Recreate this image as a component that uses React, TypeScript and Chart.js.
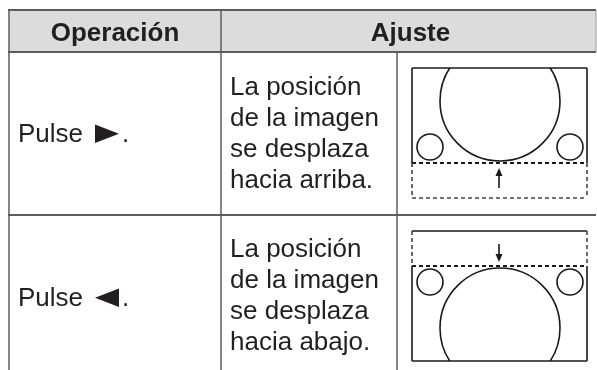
import React, { useEffect, useRef } from "react";
import { Chart, registerables } from "chart.js";

Chart.register(...registerables);

const HEADERS = ["Operación", "Ajuste"];
const OPERATIONS = ["Pulse ►.", "Pulse ◄."];
const DESCRIPTIONS = [
  ["La posición", "de la imagen", "se desplaza", "hacia arriba."],
  ["La posición", "de la imagen", "se desplaza", "hacia abajo."],
];
const SHIFTS = ["up", "down"];

const FONT = "'Liberation Sans', Arial, Helvetica, sans-serif";

const tablePlugin = {
  id: "tablePlugin",
  afterDraw(chart: any) {
    const ctx = chart.ctx as CanvasRenderingContext2D;
    const sx = chart.scales.x;
    const sy = chart.scales.y;
    const X = (v: number) => sx.getPixelForValue(v);
    const Y = (v: number) => sy.getPixelForValue(v);

    const left = 9, right = 596, top = 10, headBottom = 52, rowDiv = 215, bottom = 372;
    const col1 = 221, col2 = 397;

    ctx.save();
    // header background
    ctx.fillStyle = "#dcdcdc";
    ctx.fillRect(X(left), Y(top), X(right) - X(left), Y(headBottom) - Y(top));

    // table lines
    ctx.strokeStyle = "#5c5c5c";
    const line = (x1: number, y1: number, x2: number, y2: number, w: number) => {
      ctx.lineWidth = w;
      ctx.beginPath();
      ctx.moveTo(X(x1), Y(y1));
      ctx.lineTo(X(x2), Y(y2));
      ctx.stroke();
    };
    line(left - 1, top, right, top, 2);
    line(left - 1, headBottom, right, headBottom, 2);
    line(left - 1, rowDiv, right, rowDiv, 2);
    line(left, top, left, bottom, 1.5);
    line(col1, top, col1, bottom, 1.5);
    line(col2, headBottom, col2, bottom, 1.5);
    ctx.strokeStyle = "#9a9a9a";
    line(right, top, right, headBottom, 1);

    // header text
    ctx.fillStyle = "#231f20";
    ctx.font = `bold 26px ${FONT}`;
    ctx.textAlign = "center";
    ctx.textBaseline = "alphabetic";
    ctx.fillText(HEADERS[0], X((left + col1) / 2), Y(41));
    ctx.fillText(HEADERS[1], X((col1 + right) / 2 + 2), Y(41));

    // row text
    ctx.font = `26px ${FONT}`;
    ctx.textAlign = "left";
    const opBase = [142, 306];
    const descBase = [95, 257];
    OPERATIONS.forEach((op, i) => {
      const m = op.match(/^(.*?)\s*([►◄])(.*)$/);
      const word = m ? m[1] : op;
      const sym = m ? m[2] : "";
      const rest = m ? m[3] : "";
      ctx.fillStyle = "#231f20";
      ctx.fillText(word, X(18), Y(opBase[i]));
      if (sym) {
        const tx1 = 95, tx2 = 119;
        const ty1 = opBase[i] - 17.5, ty2 = opBase[i] + 1;
        const mid = (ty1 + ty2) / 2;
        ctx.beginPath();
        if (sym === "►") {
          ctx.moveTo(X(tx1), Y(ty1));
          ctx.lineTo(X(tx2), Y(mid));
          ctx.lineTo(X(tx1), Y(ty2));
        } else {
          ctx.moveTo(X(tx2), Y(ty1));
          ctx.lineTo(X(tx1), Y(mid));
          ctx.lineTo(X(tx2), Y(ty2));
        }
        ctx.closePath();
        ctx.fill();
        ctx.fillText(rest, X(122), Y(opBase[i]));
      }
      DESCRIPTIONS[i].forEach((t, j) => {
        ctx.fillText(t, X(230), Y(descBase[i] + j * 31));
      });
    });

    // pictures
    const bx1 = 412, bx2 = 587;
    const drawArrow = (x: number, yFrom: number, yTo: number) => {
      ctx.strokeStyle = "#1a1a1a";
      ctx.fillStyle = "#1a1a1a";
      ctx.lineWidth = 1.6;
      const dir = yTo > yFrom ? 1 : -1;
      ctx.beginPath();
      ctx.moveTo(X(x), Y(yFrom));
      ctx.lineTo(X(x), Y(yTo - dir * 5));
      ctx.stroke();
      ctx.beginPath();
      ctx.moveTo(X(x), Y(yTo));
      ctx.lineTo(X(x - 3.5), Y(yTo - dir * 8));
      ctx.lineTo(X(x + 3.5), Y(yTo - dir * 8));
      ctx.closePath();
      ctx.fill();
    };
    const seg = (x1: number, y1: number, x2: number, y2: number, dashed: boolean, w = 1.6, color = "#1a1a1a") => {
      ctx.strokeStyle = color;
      ctx.lineWidth = w;
      ctx.setLineDash(dashed ? [4, 3] : []);
      ctx.beginPath();
      ctx.moveTo(X(x1), Y(y1));
      ctx.lineTo(X(x2), Y(y2));
      ctx.stroke();
      ctx.setLineDash([]);
    };
    const circle = (cx: number, cy: number, r: number) => {
      ctx.strokeStyle = "#1a1a1a";
      ctx.lineWidth = 1.6;
      ctx.beginPath();
      ctx.arc(X(cx), Y(cy), Math.abs(X(cx + r) - X(cx)), 0, Math.PI * 2);
      ctx.stroke();
    };

    SHIFTS.forEach((s) => {
      if (s === "up") {
        const by1 = 68, by2 = 198, dash = 163;
        seg(bx1, by1, bx2, by1, false);
        seg(bx1, by1, bx1, dash, false);
        seg(bx2, by1, bx2, dash, false);
        seg(bx1, dash, bx1, by2, true, 1.6, "#444");
        seg(bx2, dash, bx2, by2, true, 1.6, "#444");
        seg(bx1, by2, bx2, by2, true, 1.6, "#444");
        seg(bx1, dash, bx2, dash, true, 1.8, "#1a1a1a");
        ctx.save();
        ctx.beginPath();
        ctx.rect(X(bx1), Y(by1), X(bx2) - X(bx1), Y(by2) - Y(by1));
        ctx.clip();
        circle(500, 101, 60);
        ctx.restore();
        circle(430, 147, 13);
        circle(570, 147, 13);
        drawArrow(499, 188, 168);
      } else {
        const by1 = 231, by2 = 361, dash = 266;
        seg(bx1, by1, bx2, by1, false);
        seg(bx1, by1, bx1, dash, true, 1.6, "#444");
        seg(bx2, by1, bx2, dash, true, 1.6, "#444");
        seg(bx1, dash, bx1, by2, false);
        seg(bx2, dash, bx2, by2, false);
        seg(bx1, by2, bx2, by2, false);
        seg(bx1, dash, bx2, dash, true, 1.8, "#1a1a1a");
        ctx.save();
        ctx.beginPath();
        ctx.rect(X(bx1), Y(by1), X(bx2) - X(bx1), Y(by2) - Y(by1));
        ctx.clip();
        circle(500, 328, 60);
        ctx.restore();
        circle(430, 282, 13);
        circle(570, 282, 13);
        drawArrow(499, 244, 262);
      }
    });
    ctx.restore();
  },
};

export default function App() {
  const ref = useRef<HTMLCanvasElement | null>(null);
  useEffect(() => {
    if (!ref.current) return;
    const chart = new Chart(ref.current, {
      type: "scatter",
      data: { datasets: [{ data: [], pointRadius: 0 }] },
      options: {
        animation: false,
        responsive: false,
        devicePixelRatio: 1,
        layout: { padding: 0 },
        plugins: { legend: { display: false }, tooltip: { enabled: false } },
        scales: {
          x: { type: "linear", min: 0, max: 597, display: false },
          y: { type: "linear", min: 0, max: 370, reverse: true, display: false },
        },
      },
      plugins: [tablePlugin],
    });
    return () => chart.destroy();
  }, []);
  return (
    <div style={{ position: "fixed", left: 0, top: 0, width: 597, height: 370, background: "#fff" }}>
      <canvas ref={ref} width={597} height={370} style={{ display: "block" }} />
    </div>
  );
}
